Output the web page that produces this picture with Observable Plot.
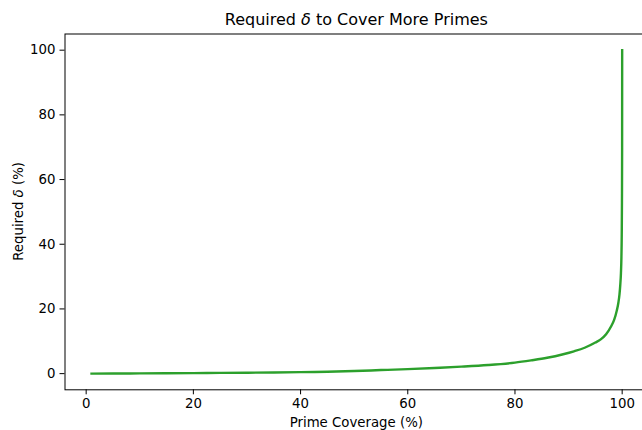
<!DOCTYPE html>
<html>
<head>
<meta charset="utf-8">
<script src="https://cdn.jsdelivr.net/npm/d3@7"></script>
<script src="https://cdn.jsdelivr.net/npm/@observablehq/plot@0.6"></script>
<style>
  html, body { margin: 0; padding: 0; background: #fff; overflow: hidden; }
  #chart { width: 642px; height: 430px; }
</style>
</head>
<body>
<div id="chart"></div>
<script>
// Share of primes covered (%) and the δ (%) needed to reach it
const coverage = [1, 5, 10, 15, 20, 25, 30, 35, 40, 45, 50, 55, 60, 65, 70, 75, 80, 83, 86, 89, 91, 93, 95, 96, 97, 98, 98.5, 99, 99.3, 99.5, 99.65, 99.77, 99.86, 99.92, 99.96, 99.99, 100];
const delta =    [0, 0.03, 0.07, 0.11, 0.16, 0.22, 0.28, 0.35, 0.45, 0.6, 0.8, 1.1, 1.4, 1.75, 2.15, 2.65, 3.4, 4.1, 4.9, 6.0, 6.9, 8.0, 9.6, 10.6, 12.2, 14.8, 16.6, 19.5, 22, 24.5, 27.5, 31, 36, 43, 53, 70, 100];

const xTicks = [0, 20, 40, 60, 80, 100];
const yTicks = [0, 20, 40, 60, 80, 100];

const rows = coverage.map((c, i) => ({coverage: c, delta: delta[i]}));

const W = 642, H = 430;
const mLeft = 64.5, mRight = -6.2, mTop = 33.5, mBottom = 40.7;

const chart = Plot.plot({
  width: W,
  height: H,
  marginLeft: mLeft,
  marginRight: mRight,
  marginTop: mTop,
  marginBottom: mBottom,
  style: {fontFamily: "'DejaVu Sans', sans-serif", fontSize: "13.3px", color: "#000", background: "#fff", maxWidth: "none"},
  x: {domain: [-3.95, 104.95]},
  y: {domain: [-5, 105]},
  marks: [
    Plot.line(rows, {x: "coverage", y: "delta", stroke: "#2ca02c", strokeWidth: 2.4, curve: "monotone-x", strokeLinecap: "square"}),
    Plot.frame({stroke: "#000", strokeWidth: 1}),
    Plot.axisX({ticks: xTicks, tickSize: 5, tickPadding: 3.5, label: null, tickFormat: d => String(d)}),
    Plot.axisY({ticks: yTicks, tickSize: 5, tickPadding: 4.5, label: null, tickFormat: d => String(d)})
  ]
});

document.getElementById("chart").appendChild(chart);

// Title and axis titles, with an italic δ
const svg = d3.select(chart);
const cx = (mLeft + (W - mRight)) / 2;
const cy = (mTop + (H - mBottom)) / 2;

function addLabel(parts, attrs) {
  const t = svg.append("text")
    .attr("text-anchor", "middle")
    .attr("fill", "#000")
    .style("font-family", "'DejaVu Sans', sans-serif");
  for (const [k, v] of Object.entries(attrs)) t.attr(k, v);
  for (const [s, it] of parts) {
    const sp = t.append("tspan").text(s);
    if (it) sp.attr("font-style", "italic");
  }
  return t;
}

addLabel([["Required ", false], ["δ", true], [" to Cover More Primes", false]],
  {x: cx, y: 25.3, "font-size": "16px"});
addLabel([["Prime Coverage (%)", false]],
  {x: cx, y: 426.5, "font-size": "13.3px"});
addLabel([["Required ", false], ["δ", true], [" (%)", false]],
  {transform: `translate(23,${cy}) rotate(-90)`, "font-size": "13.3px"});
</script>
</body>
</html>
